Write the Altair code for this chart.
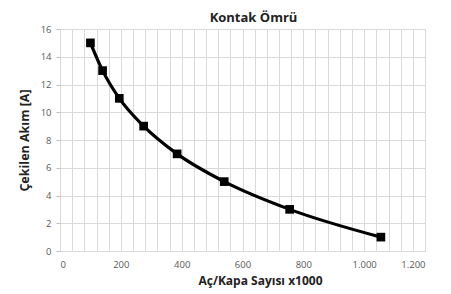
import altair as alt
import pandas as pd

cycles = [100, 140, 195, 275, 385, 540, 755, 1055]
current = [15, 13, 11, 9, 7, 5, 3, 1]
x_grid_values = list(range(0, 1201, 40))
y_tick_values = list(range(0, 17, 2))

df = pd.DataFrame({"x": cycles, "y": current})

FONT = "Open Sans"
xs = alt.Scale(domain=[0, 1200], nice=False)
ys = alt.Scale(domain=[0, 16], nice=False)

xenc = alt.X("x:Q", scale=xs,
             axis=alt.Axis(title="Aç/Kapa Sayısı x1000", values=x_grid_values,
                           labelExpr="datum.value % 200 == 0 ? replace(format(datum.value, ','), ',', '.') : ''",
                           grid=True, gridColor="#d9d9d9", gridOpacity=1,
                           ticks=False, domain=False, labelPadding=8,
                           labelOverlap=False, titlePadding=7, titleX=200,
                           labelFont=FONT, labelFontSize=9.5, labelColor="#595959",
                           titleFont=FONT, titleFontSize=12, titleFontWeight="bold",
                           titleColor="#222222"))
yenc = alt.Y("y:Q", scale=ys,
             axis=alt.Axis(title="Çekilen Akım [A]", values=y_tick_values,
                           grid=True, gridColor="#d9d9d9", gridOpacity=1,
                           ticks=True, tickSize=4, tickColor="#bfbfbf",
                           domain=False, labelPadding=5, labelOverlap=False,
                           titlePadding=9,
                           labelFont=FONT, labelFontSize=9.5, labelColor="#595959",
                           titleFont=FONT, titleFontSize=12.5, titleFontWeight="bold",
                           titleColor="#222222"))

line = alt.Chart(df).mark_line(color="black", strokeWidth=3.2, interpolate="monotone").encode(x=xenc, y=yenc)
pts = alt.Chart(df).mark_point(shape="square", filled=True, color="black", size=75, opacity=1).encode(x=xenc, y=yenc)

chart = alt.layer(line, pts).properties(
    width=365, height=222,
    title=alt.TitleParams("Kontak Ömrü", fontSize=13, fontWeight="bold", font=FONT,
                          color="#222222", dx=11, dy=1, offset=0),
    autosize=alt.AutoSizeParams(type="none"),
    padding={"left": 52, "top": 21, "right": 18, "bottom": 42},
).configure_view(stroke="#d9d9d9").configure(background="white")

chart.save("out.html", embed_options={"renderer": "svg", "actions": False})
